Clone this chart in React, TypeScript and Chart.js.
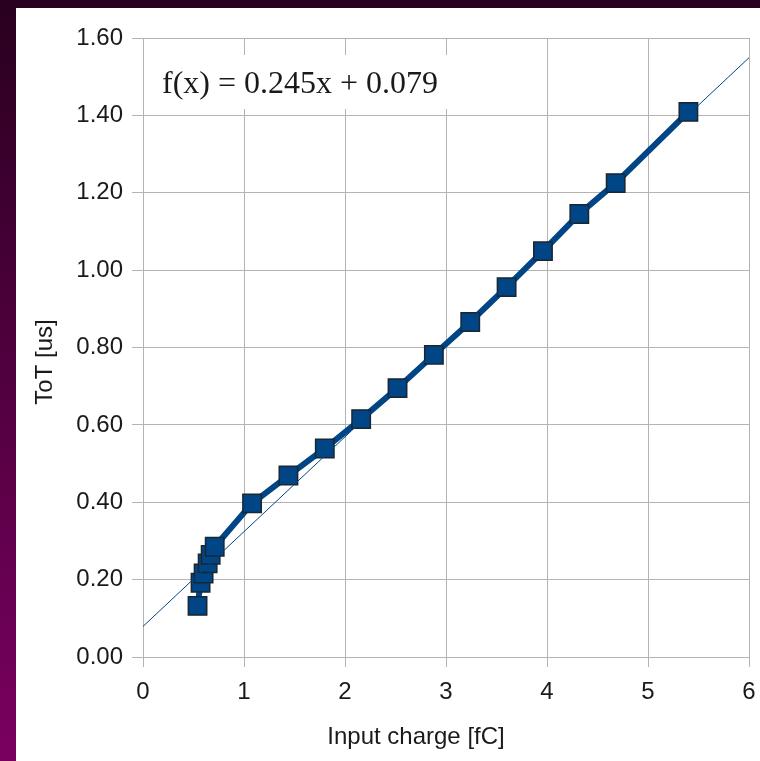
import React, { useEffect, useRef } from "react";
import { Chart, registerables } from "chart.js";

Chart.register(...registerables);

// Measured data (Input charge [fC] vs ToT [us])
const chargeValues = [0.54, 0.57, 0.6, 0.64, 0.67, 0.71, 1.08, 1.44, 1.8, 2.16, 2.52, 2.88, 3.24, 3.6, 3.96, 4.32, 4.68, 5.4];
const totValues = [0.132, 0.192, 0.216, 0.242, 0.264, 0.285, 0.397, 0.469, 0.539, 0.615, 0.695, 0.781, 0.866, 0.956, 1.049, 1.145, 1.225, 1.409];

// Linear fit line end points
const fitX = [0, 6];
const fitY = [0.079, 1.549];

const fitLabel = "f(x) = 0.245x + 0.079";
const xTitle = "Input charge [fC]";
const yTitle = "ToT [us]";

const W = 744;
const H = 753;

export default function App() {
  const ref = useRef<HTMLCanvasElement | null>(null);

  useEffect(() => {
    const canvas = ref.current;
    if (!canvas) return;

    const annotations = {
      id: "annotations",
      beforeDatasetsDraw(chart: any) {
        const ctx = chart.ctx;
        ctx.save();
        ctx.fillStyle = "#ffffff";
        ctx.fillRect(132, 47, 300, 54);
        ctx.fillStyle = "#1a1a1a";
        ctx.font = '32px "Liberation Serif"';
        ctx.textAlign = "left";
        ctx.textBaseline = "middle";
        ctx.fillText(fitLabel, 146, 77);
        ctx.restore();
      },
      afterDraw(chart: any) {
        const ctx = chart.ctx;
        ctx.save();
        ctx.fillStyle = "#1a1a1a";
        ctx.font = '24px "Liberation Sans"';
        ctx.textAlign = "center";
        ctx.textBaseline = "middle";
        ctx.fillText(xTitle, 400, 729);
        ctx.translate(29, 354);
        ctx.rotate(-Math.PI / 2);
        ctx.fillText(yTitle, 0, 0);
        ctx.restore();
      },
    };

    const chart = new Chart(canvas, {
      type: "line",
      data: {
        datasets: [
          {
            label: "fit",
            data: fitX.map((x, i) => ({ x, y: fitY[i] })),
            borderColor: "#004586",
            borderWidth: 1,
            pointRadius: 0,
            fill: false,
            order: 0,
          },
          {
            label: "ToT",
            data: chargeValues.map((x, i) => ({ x, y: totValues[i] })),
            borderColor: "#004586",
            backgroundColor: "#004586",
            borderWidth: 6,
            pointStyle: "rect",
            pointRadius: 13,
            pointBorderColor: "#1a2630",
            pointBorderWidth: 1.5,
            pointBackgroundColor: "#004586",
            fill: false,
            order: 1,
          },
        ],
      },
      options: {
        responsive: false,
        animation: false,
        layout: { autoPadding: false, padding: { top: 30, right: 11, left: 0, bottom: 0 } },
        plugins: {
          legend: { display: false },
          tooltip: { enabled: false },
        },
        scales: {
          x: {
            type: "linear",
            min: 0,
            max: 6,
            ticks: {
              stepSize: 1,
              color: "#1a1a1a",
              font: { family: "Liberation Sans", size: 24 },
              padding: 11,
            },
            grid: { color: "#b3b3b3", lineWidth: 1, tickLength: 10 },
            border: { color: "#b3b3b3" },
            afterFit(scale: any) {
              scale.height = 104;
              scale.paddingLeft = 0;
              scale.paddingRight = 0;
            },
          },
          y: {
            type: "linear",
            min: 0,
            max: 1.6,
            ticks: {
              stepSize: 0.2,
              color: "#1a1a1a",
              font: { family: "Liberation Sans", size: 24 },
              padding: 9,
              callback: (v: any) => Number(v).toFixed(2),
            },
            grid: { color: "#b3b3b3", lineWidth: 1, tickLength: 11 },
            border: { color: "#b3b3b3" },
            afterFit(scale: any) {
              scale.width = 127;
            },
          },
        },
      },
      plugins: [annotations],
    });

    return () => chart.destroy();
  }, []);

  return (
    <div
      style={{
        position: "fixed",
        left: 0,
        top: 0,
        width: 760,
        height: 761,
        background: "linear-gradient(to bottom, #29001f, #7a0060)",
      }}
    >
      <div
        style={{
          position: "absolute",
          left: 16,
          top: 8,
          width: W,
          height: H,
          background: "#ffffff",
        }}
      >
        <canvas ref={ref} width={W} height={H} style={{ display: "block" }} />
      </div>
    </div>
  );
}
